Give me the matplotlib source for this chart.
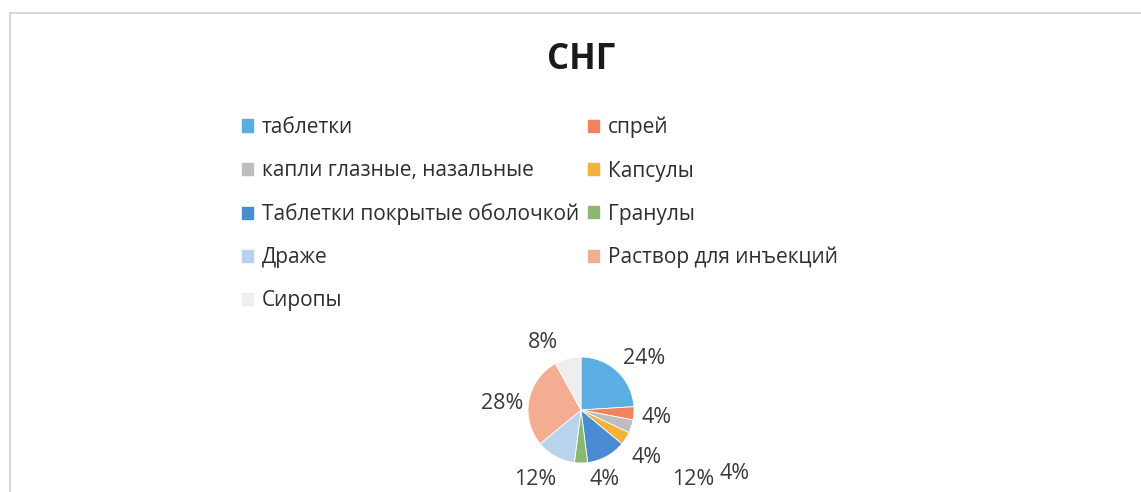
import matplotlib
matplotlib.use("Agg")
import matplotlib.pyplot as plt
import matplotlib.patches as mpatches
import numpy as np

plt.rcParams["font.family"] = ["Open Sans", "DejaVu Sans"]

# data
categories = [
    "таблетки",
    "спрей",
    "капли глазные, назальные",
    "Капсулы",
    "Таблетки покрытые оболочкой",
    "Гранулы",
    "Драже",
    "Раствор для инъекций",
    "Сиропы",
]
shares = [24, 4, 4, 4, 12, 4, 12, 28, 8]
pct_labels = ["24%", "4%", "4%", "4%", "12%", "4%", "12%", "28%", "8%"]
colors = [
    "#5AAEE3", "#F0845F", "#BDBDBD", "#F3B23A", "#4A8CD2",
    "#8CB76E", "#B9D3EC", "#F4AD93", "#EEEEEE",
]

# Excel placed the labels oddly; offsets in pie radii from the centre
label_offsets = [
    (1.19, 0.98), (1.42, -0.15), (1.23, -0.90), (2.90, -1.19),
    (2.12, -1.31), (0.44, -1.31), (-0.87, -1.31), (-1.48, 0.13),
    (-0.71, 1.27),
]

W, H = 1141, 492
fig = plt.figure(figsize=(W / 100, H / 100), dpi=100)
ax = fig.add_axes([0, 0, 1, 1])

# chart frame (top and left edges visible in the scan)
ax.plot([10, W], [H - 13, H - 13], color="#CFCFCF", lw=1.2)
ax.plot([10, 10], [0, H - 13], color="#CFCFCF", lw=1.2)

cx, cy, r = 581, H - 410, 53
ax.pie(
    shares,
    colors=colors,
    startangle=90,
    counterclock=False,
    center=(cx, cy),
    radius=r,
    frame=True,
    wedgeprops={"edgecolor": "white", "linewidth": 0.6},
)
ax.set_xlim(0, W)
ax.set_ylim(0, H)
ax.set_aspect("equal")
ax.axis("off")

for lab, (dx, dy) in zip(pct_labels, label_offsets):
    ax.text(cx + dx * r, cy + dy * r, lab, ha="center", va="center",
            fontsize=15.5, color="#3A3A3A")

ax.text(581, H - 60, "СНГ", ha="center", va="center", fontsize=25,
        fontweight="bold", color="#1A1A1A")

handles = [mpatches.Patch(color=c, label=l) for c, l in zip(colors, categories)]
leg_kw = dict(frameon=False, fontsize=15, labelspacing=1.06, handlelength=0.53,
              handleheight=0.53, handletextpad=0.43, borderaxespad=0, borderpad=0,
              labelcolor="#2E2E2E")
fig.legend(handles=handles[0::2], loc="upper left",
           bbox_to_anchor=(242 / W, 1 - 117 / H), **leg_kw)
fig.legend(handles=handles[1::2], loc="upper left",
           bbox_to_anchor=(588 / W, 1 - 117 / H), **leg_kw)

fig.savefig("out.png", dpi=100)
